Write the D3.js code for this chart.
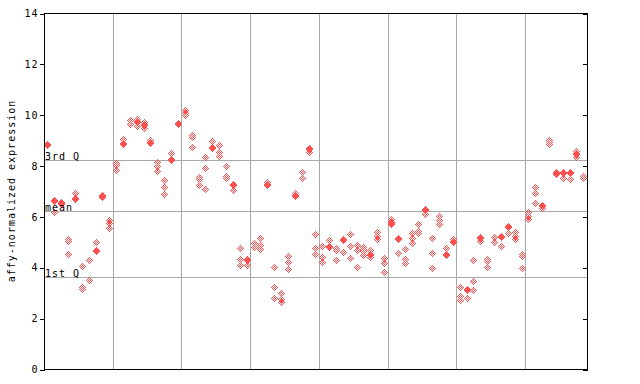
<!DOCTYPE html>
<html><head><meta charset="utf-8">
<script src="https://cdn.jsdelivr.net/npm/d3@7"></script>
<style>
body{margin:0;background:#fff}
svg{display:block}
text{font-family:"DejaVu Sans Mono",monospace;font-size:10px;letter-spacing:1px;fill:#000}
</style></head><body>
<script>
// replicate expression values per sample, 8 groups of samples
const group1 = [[8.84,8.80],[6.66,6.62,6.19],[6.58,6.54,6.47],[5.12,5.02,4.52],[6.93,6.74,6.70],[4.05,3.22,3.15],[4.29,3.50],[5.00,4.68,4.64],[6.86,6.82,6.78],[5.85,5.73,5.55]];
const group2 = [[8.11,8.02,7.84],[9.06,8.88,8.84],[9.80,9.62],[9.83,9.76,9.72,9.55],[9.71,9.63,9.59,9.48],[9.02,8.92,8.88],[8.15,7.98,7.78],[7.44,7.16,6.89],[8.50,8.27,8.23],[9.68,9.64]];
const group3 = [[10.17,10.08,10.00],[9.20,9.12,8.74],[7.56,7.48,7.24],[8.35,7.91,7.09],[8.98,8.75,8.71],[8.79,8.54,8.39],[8.00,7.60,7.53],[7.29,7.25,7.05],[4.76,4.33,4.09],[4.33,4.29,4.09]];
const group4 = [[4.96,4.80],[5.15,4.88,4.72],[7.37,7.26,7.22],[4.01,3.22,2.80],[2.98,2.76,2.64],[4.44,4.21,3.93],[6.93,6.84,6.80],[7.74,7.52],[8.68,8.64,8.54],[5.31,4.76,4.52]];
const group5 = [[4.84,4.40,4.21],[5.06,4.84,4.80],[4.76,4.67,4.29],[5.12,5.08,4.60],[5.31,4.84,4.37],[4.88,4.68,4.01],[4.78,4.70,4.66,4.48],[4.67,4.52,4.48,4.42],[5.38,5.24,5.11],[4.37,4.17,3.81]];
const group6 = [[5.90,5.78,5.74,5.69],[5.16,5.12,4.56],[4.72,4.33,4.17],[5.35,5.15,4.96],[5.71,5.44,5.36],[6.29,6.25,6.11],[5.15,4.56,3.97],[6.02,5.86,5.71],[4.76,4.53,4.49],[5.11,5.02,4.98]];
const group7 = [[3.22,2.87,2.71],[3.15,3.11,2.79],[4.29,3.46,3.10],[5.21,5.17,5.02],[4.33,4.23,4.01],[5.20,5.00],[5.24,5.20,4.84],[5.63,5.59,5.35],[5.40,5.22,5.11],[4.53,4.46,3.97]];
const group8 = [[6.16,6.03,5.90],[7.16,6.93,6.53],[6.46,6.42,6.34],[9.00,8.92,8.84],[7.76,7.72,7.68],[7.73,7.69,7.52],[7.75,7.71,7.48],[8.56,8.49,8.45,8.32],[7.58,7.50]];
const groups = [group1, group2, group3, group4, group5, group6, group7, group8];
const yTicks = [0,2,4,6,8,10,12,14];
const refLabels = ["3rd Q","mean","1st Q"];
const refValues = [8.219, 6.213, 3.618];
const yTitle = "affy-normalized expression";

const samples = groups.flat();
const nSamples = samples.length;
// group boundaries (sample index where a new group starts)
const boundaries = [];
let acc = 0;
groups.forEach((g, k) => { acc += g.length; if (k < groups.length - 1) boundaries.push(acc); });

const W = 640, H = 384;
const svg = d3.select("body").append("svg").attr("width", W).attr("height", H);
const x = d3.scaleLinear().domain([-0.5, nSamples - 0.5]).range([44.5, 587.3]);
const y = d3.scaleLinear().domain([0, 14]).range([369.5, 13.5]);
const red = "#ff5050", grid = "#a8a8a8";

const px = v => Math.floor(v) + 0.5;

// vertical group separators
svg.append("g").selectAll("line").data(boundaries).join("line")
  .attr("x1", d => px(x(d - 0.5))).attr("x2", d => px(x(d - 0.5)))
  .attr("y1", 13.5).attr("y2", 369.5)
  .attr("stroke", grid).attr("stroke-width", 1).attr("shape-rendering", "crispEdges");

// reference lines
svg.append("g").selectAll("line").data(refValues).join("line")
  .attr("x1", 44.5).attr("x2", 587.5)
  .attr("y1", d => px(y(d))).attr("y2", d => px(y(d)))
  .attr("stroke", grid).attr("stroke-width", 1).attr("shape-rendering", "crispEdges");

// pixel checker diamonds
function diamond(cx, cy) {
  let d = "";
  for (let dy = -3; dy <= 3; dy++) {
    for (let dx = -3; dx <= 3; dx++) {
      if (Math.abs(dx) + Math.abs(dy) <= 3 && Math.abs(dx + dy) % 2 === 1) {
        d += `M${cx + dx},${cy + dy}h1v1h-1z`;
      }
    }
  }
  return d;
}
const pts = [];
samples.forEach((vals, i) => vals.forEach(v => pts.push({i, v})));
svg.append("g").selectAll("path").data(pts).join("path")
  .attr("d", p => diamond(Math.floor(x(p.i)), Math.floor(y(p.v))))
  .attr("fill", red).attr("shape-rendering", "crispEdges");

// frame
svg.append("rect").attr("x", 44.5).attr("y", 13.5).attr("width", 543).attr("height", 356)
  .attr("fill", "none").attr("stroke", "#000").attr("stroke-width", 1).attr("shape-rendering", "crispEdges");

// axes
const axL = svg.append("g").attr("transform", "translate(44.5,0)")
  .call(d3.axisLeft(y).tickValues(yTicks).tickSize(5).tickSizeOuter(0).tickPadding(2).tickFormat(d3.format("d")));
axL.select(".domain").remove();
axL.selectAll("line").attr("shape-rendering", "crispEdges").attr("stroke", "#000");
axL.selectAll("text").attr("font-family", "DejaVu Sans Mono").attr("font-size", 10).style("letter-spacing", "1px").attr("dx", "1px");

const axR = svg.append("g").attr("transform", "translate(587.5,0)")
  .call(d3.axisRight(y).tickValues(yTicks).tickSize(-5).tickSizeOuter(0).tickFormat(""));
axR.select(".domain").remove();
axR.selectAll("line").attr("shape-rendering", "crispEdges").attr("stroke", "#000");

// reference labels
svg.append("g").selectAll("text").data(refValues).join("text")
  .attr("x", 45).attr("y", d => Math.floor(y(d)))
  .text((d, k) => refLabels[k]);

// y title
svg.append("text").attr("transform", "translate(15,191) rotate(-90)")
  .attr("text-anchor", "middle").text(yTitle);
</script>
</body></html>
